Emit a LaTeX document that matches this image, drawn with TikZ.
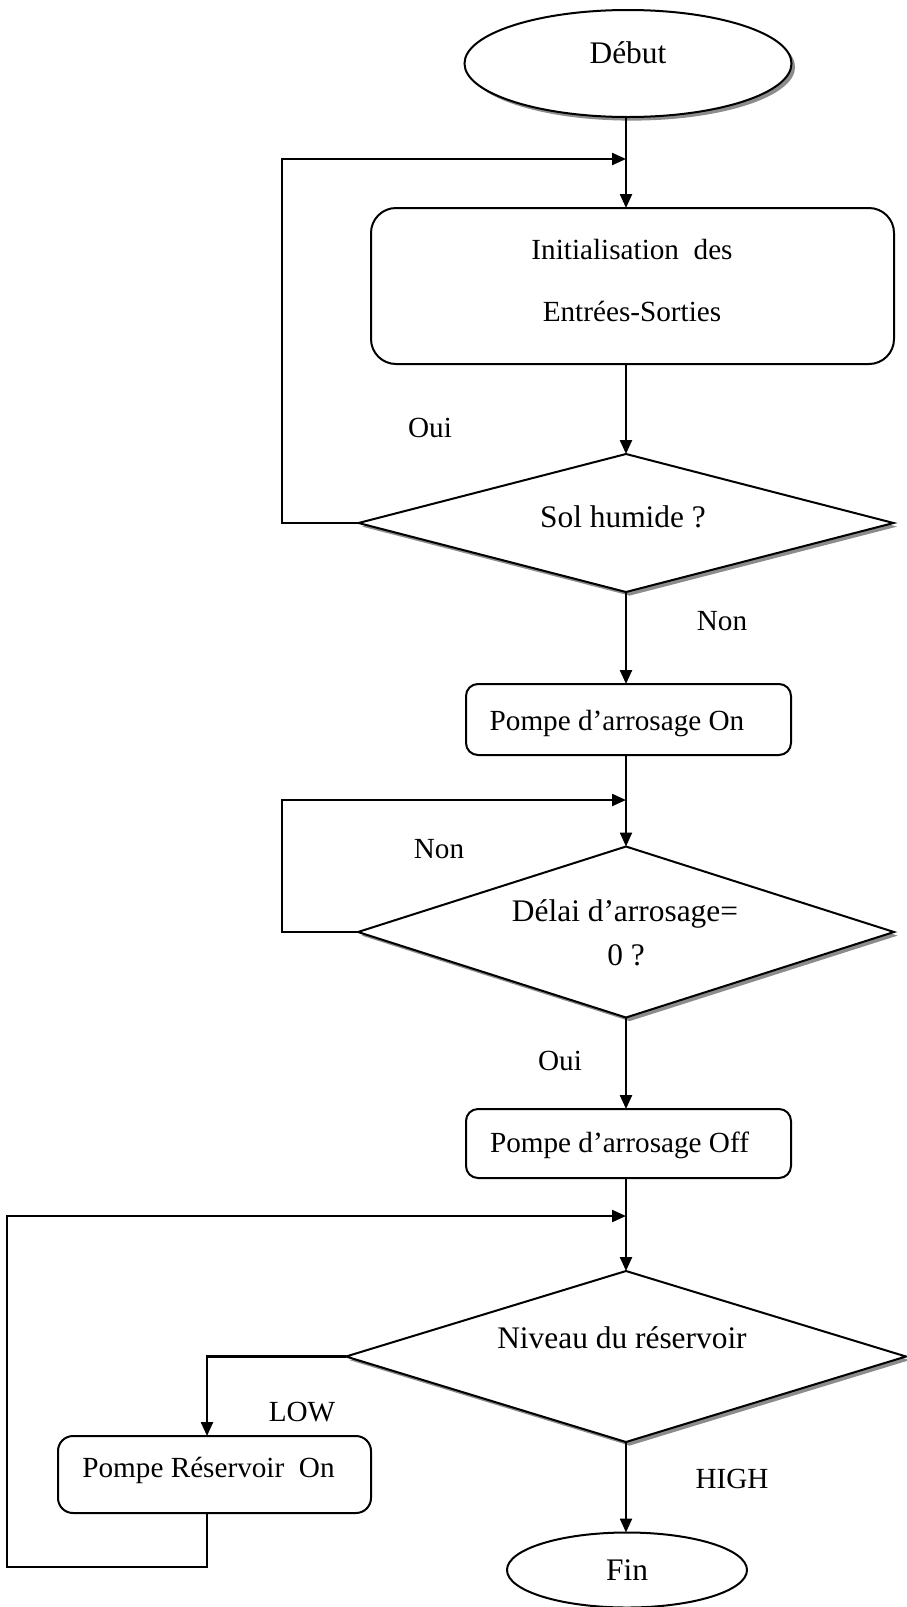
\documentclass[tikz,border=0pt]{standalone}
\usepackage{fontspec}
\setmainfont{Liberation Serif}
\usetikzlibrary{shapes.geometric,shadows,arrows.meta}

\begin{document}
\begin{tikzpicture}[x=0.5pt,y=-0.5pt,
  every node/.style={inner sep=0pt, outer sep=0pt},
  shape line/.style={draw=black, line width=1pt, fill=white},
  shdw/.style={drop shadow={shadow xshift=1.8pt, shadow yshift=-1.8pt, fill=black!45, opacity=1}},
  term/.style={shape line, ellipse},
  proc/.style={shape line, rectangle},
  test/.style={shape line, diamond},
  big/.style={font=\fontsize{15.7}{18}\selectfont},
  small/.style={font=\fontsize{14.6}{17}\selectfont},
  conn/.style={line width=1.15pt},
  arr/.style={conn, -{Triangle[length=7pt,width=6pt]}},
]
\useasboundingbox (0,0) rectangle (906,1607);

% shapes
\node[term, shdw, minimum width=163.5pt, minimum height=53.5pt] (debut) at (628,63.5) {};
\node[big, anchor=base] (debut-t) at (628,63) {Début};

\node[proc, rounded corners=12.5pt, minimum width=261.5pt, minimum height=78pt] (init) at (632.5,286) {};
\node[small, anchor=base] (init-t1) at (632,259) {Initialisation\ \ des};
\node[small, anchor=base] (init-t2) at (632,321) {Entrées-Sorties};

\node[test, shdw, minimum width=267.5pt, minimum height=69pt] (sol) at (626,523) {};
\node[big, anchor=base] (sol-t) at (623,527) {Sol humide ?};

\node[proc, rounded corners=6pt, minimum width=162.5pt, minimum height=35.5pt] (on) at (628.5,719.5) {};
\node[small, anchor=base] (on-t) at (617,730) {Pompe d’arrosage On};

\node[test, shdw, minimum width=268pt, minimum height=85.5pt] (delai) at (626,932) {};
\node[big, anchor=base] (delai-t1) at (625,921) {Délai d’arrosage=};
\node[big, anchor=base] (delai-t2) at (626,965) {0 ?};

\node[proc, rounded corners=6pt, minimum width=162.5pt, minimum height=34.5pt] (off) at (628.5,1143.5) {};
\node[small, anchor=base] (off-t) at (619.5,1152) {Pompe d’arrosage Off};

\node[test, shdw, minimum width=280pt, minimum height=85.5pt] (niveau) at (626,1356.5) {};
\node[big, anchor=base] (niveau-t) at (622,1348) {Niveau du réservoir};

\node[proc, rounded corners=7.5pt, minimum width=156.5pt, minimum height=38.5pt] (res) at (214.5,1474.5) {};
\node[small, anchor=base] (res-t) at (208.5,1477) {Pompe Réservoir\ \ On};

\node[term, minimum width=120pt, minimum height=37.5pt] (fin) at (627,1570) {};
\node[big, anchor=base] (fin-t) at (627,1580) {Fin};

% junctions and loop corners
\coordinate (j1) at (626,159);  \coordinate (l1) at (282,159);
\coordinate (j2) at (626,800);  \coordinate (l2) at (282,800);
\coordinate (j3) at (626,1216); \coordinate (l3) at (7,1216);
\coordinate (b3) at (7,1567);   \coordinate (c3) at (207,1356.5);

% connectors
\draw[arr] (debut.south -| sol.north) -- (sol.north |- init.north);
\draw[arr] (sol.west) -| (l1) -- (j1);
\draw[arr] (sol.north |- init.south) -- (sol.north);
\draw[arr] (sol.south) -- (sol.south |- on.north);
\draw[arr] (delai.north |- on.south) -- (delai.north);
\draw[arr] (delai.west) -| (l2) -- (j2);
\draw[arr] (delai.south) -- (delai.south |- off.north);
\draw[arr] (niveau.north |- off.south) -- (niveau.north);
\draw[arr] (niveau.west) -- (c3) -- (c3 |- res.north);
\draw[arr] (c3 |- res.south) |- (b3) -- (l3) -- (j3);
\draw[arr] (niveau.south) -- (niveau.south |- fin.north);

% branch labels
\node[small] (oui1) at (430,428) {Oui};
\node[small] (non1) at (722,621) {Non};
\node[small] (non2) at (439,849) {Non};
\node[small] (oui2) at (560,1061) {Oui};
\node[small] (low)  at (302,1412) {LOW};
\node[small] (high) at (732,1479) {HIGH};
\end{tikzpicture}
\end{document}
